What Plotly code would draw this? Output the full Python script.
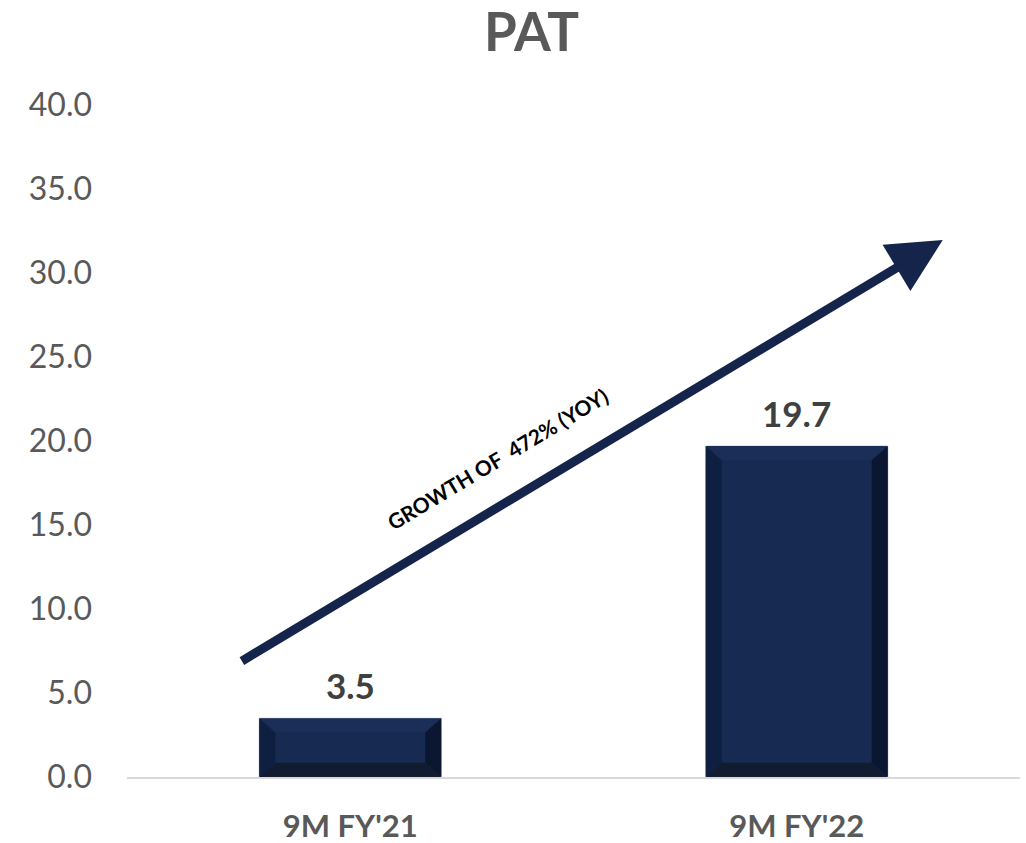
import plotly.graph_objects as go

categories = ["9M FY'21", "9M FY'22"]
values = [3.5, 19.7]
value_labels = ["3.5", "19.7"]
y_ticks = [0, 5, 10, 15, 20, 25, 30, 35, 40]
title_text = "PAT"
growth_text = "GROWTH OF  472% (YOY)"
arrow_start = (-0.246, 6.85)
arrow_end = (1.327, 31.96)

FACE = "#172a51"
LEFT = "#0f1f41"
RIGHT = "#0b1631"
TOP = "#1a2e57"
BOTTOM = "#121c31"
GRAY = "#595959"
FONT = "Lato"

xs = list(range(len(categories)))
bar_width = 0.408

fig = go.Figure()
fig.add_trace(go.Bar(
    x=xs, y=values, width=bar_width,
    marker=dict(color=FACE, line=dict(color="#c8c8c8", width=1)),
    hoverinfo="skip",
))

shapes = []
w = bar_width / 2
bx, by = 0.036, 0.85
for i, v in zip(xs, values):
    l, r = i - w, i + w
    polys = [
        (TOP, [(l, v), (r, v), (r - bx, v - by), (l + bx, v - by)]),
        (BOTTOM, [(l, 0), (r, 0), (r - bx, by), (l + bx, by)]),
        (LEFT, [(l, 0), (l, v), (l + bx, v - by), (l + bx, by)]),
        (RIGHT, [(r, 0), (r, v), (r - bx, v - by), (r - bx, by)]),
    ]
    for col, pts in polys:
        path = "M " + " L ".join(f"{px},{py}" for px, py in pts) + " Z"
        shapes.append(dict(type="path", path=path, xref="x", yref="y",
                           fillcolor=col, line=dict(width=0), layer="above"))

annotations = []
for i, v, t in zip(xs, values, value_labels):
    annotations.append(dict(x=i, y=v, text=f"<b>{t}</b>", showarrow=False,
                            yanchor="bottom", yshift=10,
                            font=dict(family=FONT, size=35, color="#404040")))

annotations.append(dict(
    x=arrow_end[0], y=arrow_end[1], ax=arrow_start[0], ay=arrow_start[1],
    xref="x", yref="y", axref="x", ayref="y", text="",
    showarrow=True, arrowhead=2, arrowsize=1.2, arrowwidth=9,
    arrowcolor="#14244b", standoff=0, startstandoff=0,
))
annotations.append(dict(
    x=0.33, y=18.95, xref="x", yref="y", text=f"<b>{growth_text}</b>",
    showarrow=False, textangle=-31,
    font=dict(family=FONT, size=21, color="#000000"),
))

fig.update_layout(
    width=1026, height=843,
    margin=dict(l=127, r=6, t=105, b=66),
    paper_bgcolor="white", plot_bgcolor="white",
    showlegend=False,
    title=dict(text=f"<b>{title_text}</b>", x=0.518, xanchor="center",
               y=0.962, yanchor="middle",
               font=dict(family=FONT, size=53, color=GRAY)),
    shapes=shapes,
    annotations=annotations,
    bargap=0.592,
)
fig.update_xaxes(
    range=[-0.5, 1.5], tickmode="array", tickvals=xs,
    ticktext=[f"<b>{c}</b>" for c in categories],
    showgrid=False, zeroline=False, showline=True,
    linecolor="#d9d9d9", linewidth=2, ticks="",
    tickfont=dict(family=FONT, size=31, color=GRAY),
    ticklabelstandoff=21, automargin=False,
)
fig.update_yaxes(
    range=[0, 40], tickmode="array", tickvals=y_ticks,
    ticktext=[f"{t:.1f}" for t in y_ticks],
    showgrid=False, zeroline=False, showline=False, ticks="",
    tickfont=dict(family=FONT, size=32, color=GRAY),
    ticklabelstandoff=34, automargin=False,
)

fig.write_html("out.html")
